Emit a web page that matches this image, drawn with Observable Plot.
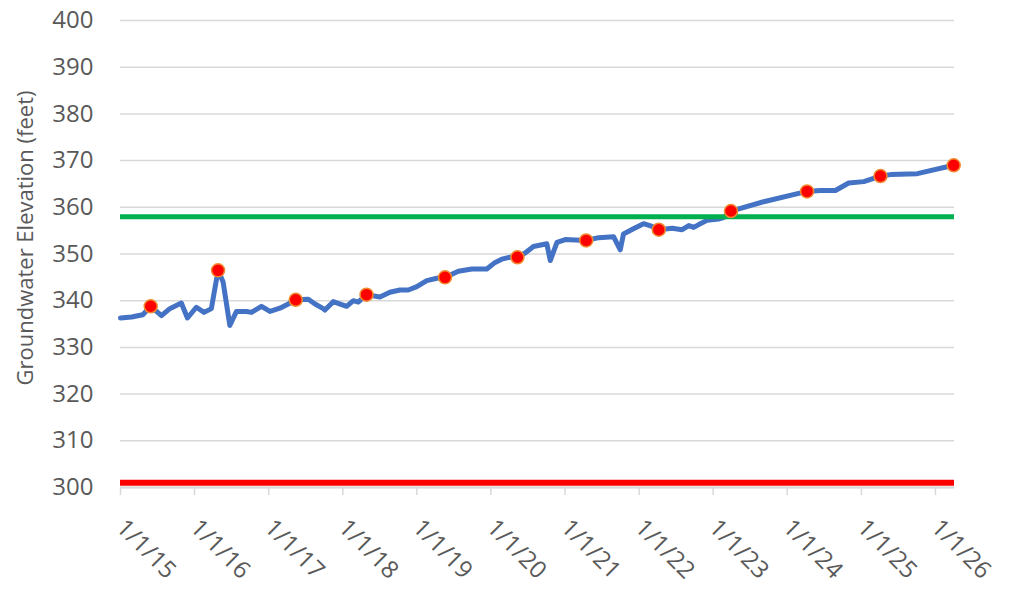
<!DOCTYPE html>
<html>
<head>
<meta charset="utf-8">
<script src="https://cdn.jsdelivr.net/npm/d3@7"></script>
<script src="https://cdn.jsdelivr.net/npm/@observablehq/plot@0.6"></script>
<style>
  html, body { margin: 0; padding: 0; background: #fff; }
  #chart { width: 1012px; height: 592px; }
</style>
</head>
<body>
<div id="chart"></div>
<script>
// Continuous groundwater elevation record
const lineDates = [
  "2015-01-01","2015-02-25","2015-04-21","2015-05-30","2015-07-22","2015-09-01","2015-10-28","2015-11-27",
  "2016-01-10","2016-02-17","2016-03-24","2016-04-26","2016-05-21","2016-06-23","2016-07-26","2016-09-13",
  "2016-10-08","2016-11-26","2017-01-07","2017-02-25","2017-04-07","2017-05-14","2017-07-15","2017-08-17",
  "2017-09-27","2017-10-05","2017-11-15","2018-01-20","2018-02-22","2018-03-18","2018-04-28","2018-07-03",
  "2018-08-21","2018-10-10","2018-11-20","2019-01-01","2019-02-19","2019-04-10","2019-05-20","2019-07-25",
  "2019-09-29","2019-12-12","2020-01-22","2020-02-24","2020-04-05","2020-05-11","2020-06-18","2020-07-29",
  "2020-10-03","2020-10-20","2020-11-22","2021-01-02","2021-02-20","2021-04-15","2021-06-15","2021-08-28",
  "2021-09-30","2021-10-16","2021-12-04","2022-01-23","2022-03-06","2022-04-08","2022-06-13","2022-08-01",
  "2022-09-03","2022-09-27","2022-10-22","2022-12-02","2023-01-28","2023-02-21","2023-03-30","2023-09-07",
  "2024-04-08","2024-06-13","2024-08-26","2024-10-30","2025-01-13","2025-04-05","2025-05-25","2025-10-04",
  "2026-04-01"
];
const lineValues = [
  336.3,336.5,337.0,338.8,336.8,338.3,339.5,336.3,
  338.6,337.5,338.3,346.5,344.0,334.7,337.7,337.7,
  337.5,338.8,337.7,338.4,339.3,340.2,340.3,339.3,
  338.3,338.0,339.8,338.8,340.0,339.7,341.3,340.8,
  341.8,342.3,342.3,343.0,344.3,344.8,345.0,346.3,
  346.8,346.8,348.2,348.9,349.3,349.3,350.2,351.6,
  352.2,348.6,352.5,353.1,353.0,352.9,353.5,353.7,
  350.9,354.3,355.4,356.5,355.9,355.2,355.5,355.2,
  356.1,355.7,356.3,357.2,357.5,357.8,359.2,361.2,
  363.4,363.6,363.6,365.2,365.5,366.7,367.0,367.2,
  369.0
];
// Spring measurement points (red dots)
const sampleDates = [
  "2015-05-30","2016-04-26","2017-05-14","2018-04-28","2019-05-20","2020-05-11",
  "2021-04-15","2022-04-08","2023-03-30","2024-04-08","2025-04-05","2026-04-01"
];
const sampleValues = [338.8,346.5,340.2,341.3,345.0,349.3,352.9,355.2,359.2,363.4,366.7,369.0];
// Threshold lines
const upperThreshold = [358];
const lowerThreshold = [301];
// Axis ticks
const yTicks = [300,310,320,330,340,350,360,370,380,390,400];
const xTickDates = ["2015-01-01","2016-01-01","2017-01-01","2018-01-01","2019-01-01","2020-01-01",
  "2021-01-01","2022-01-01","2023-01-01","2024-01-01","2025-01-01","2026-01-01"];
const xDomain = ["2015-01-01","2026-04-05"];

const line = lineDates.map((d, i) => ({date: new Date(d), value: lineValues[i]}));
const samples = sampleDates.map((d, i) => ({date: new Date(d), value: sampleValues[i]}));
const xTicks = xTickDates.map(d => new Date(d));
const fmt = d3.utcFormat("%-m/%-d/%y");

const chart = Plot.plot({
  width: 1012,
  height: 592,
  marginLeft: 120,
  marginRight: 58,
  marginTop: 20,
  marginBottom: 105,
  style: {fontFamily: "'Open Sans', sans-serif", background: "#fff"},
  x: {type: "utc", domain: xDomain.map(d => new Date(d))},
  y: {domain: [300, 400]},
  marks: [
    Plot.gridY(yTicks, {stroke: "#d9d9d9", strokeOpacity: 1, strokeWidth: 1.5}),
    Plot.axisY(yTicks, {tickSize: 0, tickPadding: 27, fontSize: 24, color: "#595959", label: null}),
    Plot.ruleY([300], {stroke: "#d9d9d9", strokeWidth: 2}),
    Plot.axisX(xTicks, {tickSize: 8, tickFormat: () => "", stroke: "#d9d9d9", strokeWidth: 1.5, label: null}),
    Plot.text(xTicks, {x: d => d, frameAnchor: "bottom", dy: 36, rotate: 45, textAnchor: "start",
      lineAnchor: "middle", text: d => fmt(d), fontSize: 24, fill: "#595959"}),
    Plot.text(["Groundwater Elevation (feet)"], {frameAnchor: "left", dx: -95, dy: -16, rotate: -90,
      textAnchor: "middle", lineAnchor: "middle", fontSize: 22, fill: "#595959"}),
    Plot.ruleY(lowerThreshold, {stroke: "#FF0000", strokeWidth: 6}),
    Plot.lineY(line, {x: "date", y: "value", stroke: "#4472C4", strokeWidth: 5,
      strokeLinejoin: "round", strokeLinecap: "round"}),
    Plot.ruleY(upperThreshold, {stroke: "#00B050", strokeWidth: 5}),
    Plot.dot(samples, {x: "date", y: "value", r: 6.5, fill: "#FF0000", stroke: "#F08A30", strokeWidth: 1.5})
  ]
});
document.getElementById("chart").appendChild(chart);
</script>
</body>
</html>
